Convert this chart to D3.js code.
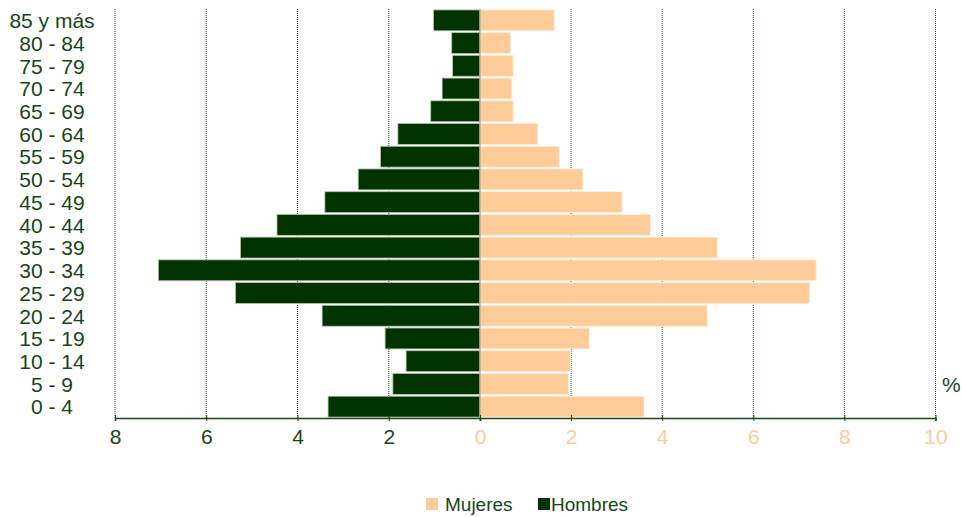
<!DOCTYPE html>
<html><head><meta charset="utf-8">
<script src="https://cdn.jsdelivr.net/npm/d3@7"></script>
<style>body{margin:0;background:#fff}svg{display:block}text{font-family:"Liberation Sans",Arial,sans-serif}</style>
</head><body><svg id="c" width="962" height="517"></svg>
<script>
const categories = ["85 y más","80 - 84","75 - 79","70 - 74","65 - 69","60 - 64","55 - 59","50 - 54","45 - 49","40 - 44","35 - 39","30 - 34","25 - 29","20 - 24","15 - 19","10 - 14","5 - 9","0 - 4"];
const hombres = [1.02,0.62,0.60,0.83,1.08,1.80,2.18,2.67,3.40,4.45,5.25,7.05,5.36,3.46,2.08,1.62,1.91,3.33];
const mujeres = [1.63,0.67,0.73,0.70,0.73,1.27,1.74,2.26,3.12,3.74,5.21,7.38,7.24,4.99,2.40,1.99,1.94,3.60];
const leftTicks = [8,6,4,2];
const rightTicks = [0,2,4,6,8,10];
const seriesNames = ["Mujeres","Hombres"];

const cM = "#FFCC99", cH = "#003300", txt = "#164616";
const svg = d3.select("#c");
const plotTop = 9, plotBottom = 418, x0 = 480;
const xL = d3.scaleLinear().domain([0,8]).range([x0,115]);
const xR = d3.scaleLinear().domain([0,10]).range([x0,935.5]);
const y = d3.scaleBand().domain(categories).range([plotTop,plotBottom]).paddingInner(0.08).paddingOuter(0.04);

// gridlines
const g = svg.append("g");
leftTicks.forEach(t=>g.append("line").attr("x1",xL(t)).attr("x2",xL(t)).attr("y1",plotTop).attr("y2",plotBottom)
  .attr("stroke","#1a4a1a").attr("stroke-width",1).attr("stroke-dasharray","1,1"));
rightTicks.filter(t=>t>0).forEach(t=>g.append("line").attr("x1",xR(t)).attr("x2",xR(t)).attr("y1",plotTop).attr("y2",plotBottom)
  .attr("stroke","#2a5a2a").attr("stroke-width",1).attr("stroke-dasharray","1,1"));

// bars
svg.append("g").selectAll("rect").data(categories).join("rect")
  .attr("x",(d,i)=>xL(hombres[i])).attr("y",d=>y(d))
  .attr("width",(d,i)=>x0-xL(hombres[i])).attr("height",y.bandwidth())
  .attr("fill",cH).attr("stroke","#b8c4b0").attr("stroke-width",0.8);
svg.append("g").selectAll("rect").data(categories).join("rect")
  .attr("x",x0).attr("y",d=>y(d))
  .attr("width",(d,i)=>xR(mujeres[i])-x0).attr("height",y.bandwidth())
  .attr("fill",cM).attr("stroke","#fff0e0").attr("stroke-width",0.8);
svg.append("line").attr("x1",x0).attr("x2",x0).attr("y1",plotTop).attr("y2",plotBottom).attr("stroke","#8a9a80").attr("stroke-width",1);

// axes
const axL = d3.axisBottom(xL).tickValues(leftTicks).tickSize(3).tickPadding(8);
const axR = d3.axisBottom(xR).tickValues(rightTicks).tickSize(3).tickPadding(8);
const gl = svg.append("g").attr("transform",`translate(0,${plotBottom})`).call(axL);
const gr = svg.append("g").attr("transform",`translate(0,${plotBottom})`).call(axR);
[gl,gr].forEach(a=>{a.select(".domain").attr("stroke","#1a4a1a").attr("stroke-width",1.5);
  a.selectAll(".tick line").attr("stroke","#1a4a1a").attr("y1",-3);
  a.selectAll("text").attr("font-size",21).attr("font-family","Liberation Sans, Arial, sans-serif");});
gl.selectAll("text").attr("fill",txt);
gr.selectAll("text").attr("fill",cM);

// y labels
svg.append("g").selectAll("text").data(categories).join("text")
  .attr("x",52).attr("y",d=>y(d)+y.bandwidth()/2).attr("dy","0.37em")
  .attr("text-anchor","middle").attr("font-size",21).attr("fill",txt).text(d=>d);

svg.append("text").attr("x",942).attr("y",392).attr("font-size",21).attr("fill",txt).text("%");

// legend
const leg = svg.append("g");
const lx = [426,538], lc=[cM,cH];
seriesNames.forEach((n,i)=>{
  leg.append("rect").attr("x",lx[i]).attr("y",498).attr("width",12).attr("height",12).attr("fill",lc[i]);
  leg.append("text").attr("x",lx[i]+(i?13:19)).attr("y",511).attr("font-size",19).attr("fill",txt).text(n);
});
</script></body></html>
